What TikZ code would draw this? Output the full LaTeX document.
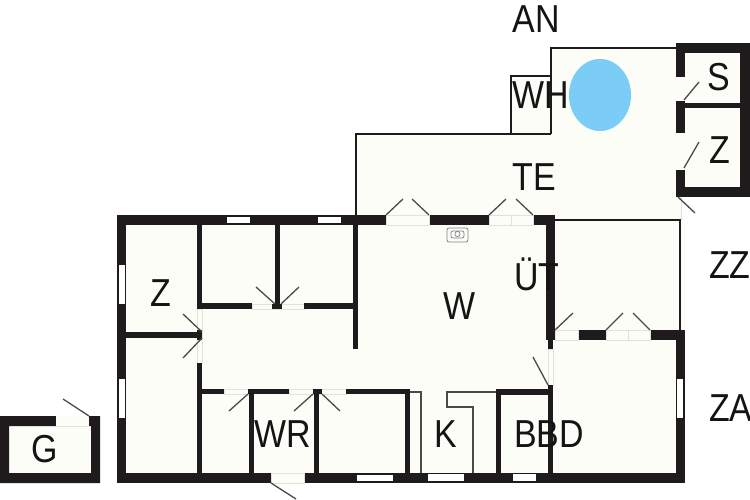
\documentclass[tikz,border=0pt]{standalone}
\usepackage{fontspec}
\setmainfont[FakeStretch=0.87]{Liberation Sans}
\definecolor{wallc}{HTML}{1F1B1C}
\definecolor{cream}{HTML}{FDFDF8}
\definecolor{pool}{HTML}{7BCDF7}
\definecolor{swing}{HTML}{4A4A48}
\definecolor{edge}{HTML}{E2E2DC}
\tikzset{
  wall/.style={fill=wallc,draw=none},
  room/.style={fill=cream,draw=none},
  gapbox/.style={fill=cream,draw=edge,line width=0.6pt},
  winbox/.style={fill=white,draw=none},
  thinline/.style={draw=wallc,line width=2.4pt},
  kitline/.style={draw=swing,line width=1.1pt},
  swingline/.style={draw=swing,line width=1.3pt},
  lbl/.style={font=\fontsize{39}{39}\selectfont,text=black!92,inner sep=0pt,outer sep=0pt}
}
\begin{document}
\begin{tikzpicture}[x=1pt,y=-1pt]
\useasboundingbox (0,0) rectangle (750,500);
\fill[white] (0,0) rectangle (750,500);
% cream floors
\fill[room] (117,215) rectangle (685,483);
\fill[room] (356,134) rectangle (681,220);
\fill[room] (551,48) rectangle (681,134);
\fill[room] (511,76) rectangle (551,134);
\fill[room] (681,45) rectangle (745,190);
\fill[room] (0,416) rectangle (100,483);
% terrace outline
\draw[thinline] (356,215) -- (356,134) -- (551,134);
\draw[thinline] (551,134) -- (551,48) -- (678,48);
\draw[thinline,line width=2pt] (511,134) -- (511,76) -- (551,76);
\draw[thinline] (553,220) -- (680,220) -- (680,332);
\draw[edge,line width=0.6pt] (681,197) -- (681,220);
% pool
\fill[pool] (600,95) ellipse [x radius=31,y radius=36];
% annex
\fill[wall] (676,43) rectangle (750,53);
\fill[wall] (676,43) rectangle (685,77);
\fill[wall] (676,101) rectangle (685,133);
\fill[wall] (676,170) rectangle (685,197);
\fill[wall] (676,187) rectangle (750,197);
\fill[wall] (740,43) rectangle (750,197);
\fill[wall] (685,103) rectangle (740,108);
\draw[swingline] (684,100) -- (699,82);
\draw[swingline] (684,168) -- (699,142);
\draw[swingline] (678,197) -- (695,213);
% main outer walls
\fill[wall] (117,215) rectangle (386,225);
\fill[wall] (429,215) rectangle (489,225);
\fill[wall] (533,215) rectangle (555,225);
\fill[wall] (117,215) rectangle (126,483);
\fill[wall] (117,473) rectangle (271,483);
\fill[wall] (304,473) rectangle (685,483);
\fill[wall] (676,330) rectangle (685,483);
\fill[wall] (650,330) rectangle (685,340);
\fill[wall] (578,330) rectangle (606,340);
\fill[wall] (546,215) rectangle (555,340);
\fill[wall] (548,340) rectangle (553,349);
% door boxes
\draw[gapbox] (386,215) rectangle (429,225);
\draw[gapbox] (489,215) rectangle (533,225);
\draw[edge,line width=0.6pt] (511,215) -- (511,225);
\draw[gapbox] (555,330) rectangle (578,340);
\draw[gapbox] (606,330) rectangle (650,340);
\draw[edge,line width=0.6pt] (628,330) -- (628,340);
\draw[gapbox] (548,349) rectangle (553,385);
\draw[gapbox] (271,473) rectangle (304,483);
\draw[gapbox] (197,309) rectangle (202,363);
\draw[gapbox] (252,304) rectangle (304,309);
\draw[gapbox] (224,389) rectangle (248,394);
\draw[gapbox] (289,389) rectangle (346,394);
% interior walls
\fill[wall] (197,225) rectangle (202,309);
\fill[wall] (197,303) rectangle (252,309);
\fill[wall] (304,303) rectangle (353,309);
\fill[wall] (275,225) rectangle (280,309);
\fill[wall] (272,304) rectangle (282,309);
\fill[wall] (353,225) rectangle (358,349);
\fill[wall] (126,332) rectangle (202,338);
\fill[wall] (197,330) rectangle (202,340);
\fill[wall] (197,363) rectangle (202,473);
\fill[wall] (202,389) rectangle (224,394);
\fill[wall] (248,389) rectangle (289,394);
\fill[wall] (313,389) rectangle (322,394);
\fill[wall] (346,389) rectangle (410,394);
\fill[wall] (249,389) rectangle (254,473);
\fill[wall] (314,389) rectangle (319,473);
\fill[wall] (405,389) rectangle (410,473);
\fill[wall] (496,389) rectangle (501,473);
\fill[wall] (496,389) rectangle (553,395);
\fill[wall] (548,385) rectangle (553,473);
% kitchen
\draw[kitline] (410,392) -- (421,392) -- (421,473);
\draw[kitline] (496,392) -- (447,392) -- (447,407) -- (473,407) -- (473,473);
% windows
\fill[winbox] (227,217) rectangle (250,223);
\fill[winbox] (318,217) rectangle (341,223);
\fill[winbox] (119,265) rectangle (125,304);
\fill[winbox] (119,379) rectangle (125,418);
\fill[winbox] (357,475) rectangle (393,481);
\fill[winbox] (428,474) rectangle (464,481);
\fill[winbox] (513,474) rectangle (536,481);
\fill[winbox] (677,379) rectangle (683,418);
% door swings
\draw[swingline] (386,215) -- (403,199);
\draw[swingline] (429,215) -- (412,199);
\draw[swingline] (489,215) -- (506,199);
\draw[swingline] (533,215) -- (516,199);
\draw[swingline] (555,330) -- (573,313);
\draw[swingline] (606,330) -- (623,313);
\draw[swingline] (650,330) -- (633,313);
\draw[swingline] (548,385) -- (533,357);
\draw[swingline] (275,304) -- (256,287);
\draw[swingline] (281,304) -- (299,287);
\draw[swingline] (202,332) -- (183,314);
\draw[swingline] (202,338) -- (183,358);
\draw[swingline] (248,394) -- (229,411);
\draw[swingline] (313,394) -- (294,411);
\draw[swingline] (322,394) -- (340,411);
\draw[swingline] (271,483) -- (296,499);
% fridge symbol
\draw[draw=gray,line width=0.8pt,rounded corners=2pt] (447,228) rectangle (468,242);
\draw[draw=gray,line width=0.7pt,rounded corners=2pt] (451,231) rectangle (464,238);
\draw[draw=gray,line width=0.7pt] (457.5,234) circle (2.6);
% garage
\fill[wall,even odd rule] (0,416) rectangle (100,483) (9,426) rectangle (91,473);
\fill[room] (56,416) rectangle (89,426);
\draw[swingline] (89,416) -- (63,399);
% labels
\node[lbl] (an) at (536.5,19) {AN};
\node[lbl] (wh) at (540.5,95) {WH};
\node[lbl] (s) at (718.5,77) {S};
\node[lbl] (z1) at (719.5,150) {Z};
\node[lbl] (te) at (534,177) {TE};
\node[lbl] (w) at (460,306) {W};
\node[lbl,anchor=base] (ut) at (537,290) {ÜT};
\node[lbl] (z2) at (161,293) {Z};
\node[lbl,anchor=west] (zz) at (709,265) {ZZ};
\node[lbl,anchor=west] (za) at (709,408) {ZA};
\node[lbl] (wr) at (282.5,434) {WR};
\node[lbl] (k) at (446,434) {K};
\node[lbl] (bbd) at (549,434) {BBD};
\node[lbl] (g) at (44.5,449) {G};
\end{tikzpicture}
\end{document}
